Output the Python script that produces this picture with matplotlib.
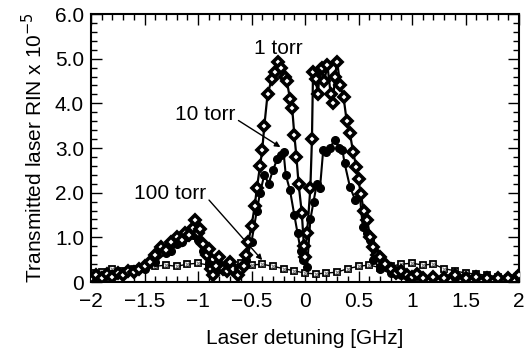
import matplotlib
matplotlib.use("Agg")
import matplotlib.pyplot as plt
from matplotlib.ticker import MultipleLocator, FixedLocator

plt.rcParams["font.family"] = ["Liberation Sans", "DejaVu Sans"]

# 1 torr (diamonds)
x1 = [-2.00, -1.95, -1.90, -1.85, -1.80, -1.75, -1.70, -1.65, -1.60, -1.55,
      -1.50, -1.45, -1.40, -1.35, -1.30, -1.25, -1.20, -1.15, -1.12, -1.08,
      -1.05, -1.03, -1.00, -0.98, -0.95, -0.92, -0.90, -0.88, -0.86, -0.83,
      -0.80, -0.77, -0.73, -0.70, -0.67, -0.63, -0.60, -0.57, -0.55, -0.53,
      -0.50, -0.47, -0.45, -0.42, -0.40, -0.38, -0.35, -0.31, -0.28, -0.25,
      -0.22, -0.19, -0.17, -0.14, -0.12, -0.10, -0.08, -0.06, -0.03, -0.01,
      0.00, 0.02, 0.05, 0.065, 0.075, 0.10, 0.12, 0.14, 0.16, 0.18,
      0.21, 0.24, 0.26, 0.28, 0.30, 0.33, 0.36, 0.39, 0.42, 0.45,
      0.48, 0.50, 0.52, 0.55, 0.58, 0.61, 0.64, 0.67, 0.70, 0.75,
      0.80, 0.85, 0.90, 0.95, 1.00, 1.05, 1.10, 1.20, 1.30, 1.40,
      1.50, 1.60, 1.70, 1.80, 1.90, 2.00]
y1 = [0.08, 0.15, 0.10, 0.18, 0.12, 0.20, 0.15, 0.25, 0.22, 0.30,
      0.35, 0.45, 0.60, 0.78, 0.72, 0.90, 1.00, 0.95, 1.10, 1.05,
      1.20, 1.38, 1.10, 1.18, 0.85, 0.60, 0.75, 0.30, 0.15, 0.35,
      0.55, 0.30, 0.25, 0.45, 0.30, 0.15, 0.30, 0.35, 0.60, 0.90,
      1.25, 1.70, 2.10, 2.60, 2.95, 3.50, 4.20, 4.55, 4.70, 4.92,
      4.80, 4.60, 4.50, 4.10, 3.90, 3.30, 2.80, 2.20, 1.55, 0.80,
      0.56, 1.10, 2.10, 3.20, 4.70, 4.55, 4.20, 4.75, 4.78, 4.50,
      4.85, 4.20, 4.00, 4.60, 4.93, 4.40, 4.14, 3.60, 3.33, 2.90,
      2.58, 2.30, 1.98, 1.60, 1.39, 1.00, 0.79, 0.60, 0.56, 0.40,
      0.30, 0.20, 0.25, 0.15, 0.12, 0.18, 0.10, 0.12, 0.10, 0.15,
      0.08, 0.12, 0.10, 0.08, 0.10, 0.15]

# 10 torr (filled circles)
x10 = [-2.00, -1.90, -1.80, -1.70, -1.60, -1.50, -1.40, -1.30, -1.25, -1.20,
       -1.15, -1.10, -1.05, -1.00, -0.95, -0.90, -0.85, -0.80, -0.75, -0.70,
       -0.65, -0.60, -0.55, -0.50, -0.45, -0.42, -0.38, -0.34, -0.30, -0.26,
       -0.22, -0.20, -0.18, -0.14, -0.10, -0.07, -0.04, -0.02, 0.02, 0.05,
       0.08, 0.11, 0.14, 0.17, 0.20, 0.23, 0.28, 0.32, 0.35, 0.37,
       0.42, 0.47, 0.51, 0.54, 0.58, 0.61, 0.64, 0.70, 0.80, 0.90,
       1.00, 1.20, 1.40, 1.60, 1.80, 2.00]
y10 = [0.12, 0.15, 0.18, 0.20, 0.25, 0.30, 0.45, 0.65, 0.70, 0.85,
       0.90, 1.00, 1.05, 0.95, 0.70, 0.40, 0.20, 0.30, 0.25, 0.35,
       0.25, 0.30, 0.50, 0.90, 1.60, 2.00, 2.40, 2.20, 2.50, 2.75,
       2.85, 2.90, 2.40, 2.05, 1.50, 1.10, 0.70, 0.50, 0.34, 1.40,
       1.80, 2.20, 2.10, 2.95, 2.90, 3.00, 3.18, 3.00, 2.95, 2.66,
       2.13, 1.83, 2.00, 1.23, 1.10, 0.94, 0.49, 0.30, 0.20, 0.15,
       0.12, 0.10, 0.10, 0.08, 0.10, 0.10]

# 100 torr (crossed squares)
x100 = [-2.00, -1.90, -1.80, -1.70, -1.60, -1.50, -1.40, -1.30, -1.20, -1.10,
        -1.00, -0.90, -0.80, -0.70, -0.60, -0.50, -0.40, -0.30, -0.20, -0.10,
        0.00, 0.10, 0.20, 0.30, 0.40, 0.50, 0.60, 0.70, 0.80, 0.90,
        1.00, 1.10, 1.20, 1.30, 1.40, 1.50, 1.60, 1.70, 1.80, 1.90, 2.00]
y100 = [0.20, 0.22, 0.28, 0.25, 0.30, 0.32, 0.35, 0.38, 0.35, 0.40,
        0.42, 0.38, 0.40, 0.35, 0.42, 0.38, 0.40, 0.35, 0.30, 0.25,
        0.20, 0.18, 0.20, 0.22, 0.30, 0.35, 0.38, 0.32, 0.35, 0.40,
        0.42, 0.38, 0.40, 0.30, 0.25, 0.20, 0.18, 0.15, 0.12, 0.10, 0.15]

x_ticks = [-2, -1.5, -1, -0.5, 0, 0.5, 1, 1.5, 2]
x_labels = ["\u22122", "\u22121.5", "\u22121", "\u22120.5", "0", "0.5", "1", "1.5", "2"]
y_ticks = [0, 1, 2, 3, 4, 5, 6]
y_labels = ["0", "1.0", "2.0", "3.0", "4.0", "5.0", "6.0"]

FS = 15

fig = plt.figure(figsize=(5.31, 3.56), dpi=100)
ax = fig.add_axes([91 / 531, 1 - 282 / 356, (519 - 91) / 531, (282 - 14) / 356])

ax.plot(x100, y100, color="black", lw=1.0, marker="s", ms=5, mfc="white",
        mec="black", mew=1.3, zorder=2)
ax.plot(x100, y100, ls="none", marker="x", ms=3, mec="0.5", mew=0.8, zorder=2)
ax.plot(x10, y10, color="black", lw=1.5, marker="o", ms=5.5, mfc="black",
        mec="black", zorder=3)
ax.plot(x1, y1, color="black", lw=1.6, marker="D", ms=5, mfc="white",
        mec="black", mew=2.6, zorder=4)

ax.set_xlim(-2, 2)
ax.set_ylim(0, 6)
ax.xaxis.set_major_locator(FixedLocator(x_ticks))
ax.set_xticklabels(x_labels)
ax.yaxis.set_major_locator(FixedLocator(y_ticks))
ax.set_yticklabels(y_labels)
ax.xaxis.set_minor_locator(MultipleLocator(0.1))
ax.yaxis.set_minor_locator(MultipleLocator(0.2))
ax.tick_params(which="both", direction="in", top=True, right=True,
               labelsize=FS, width=1.0)
ax.tick_params(which="major", length=8)
ax.tick_params(which="minor", length=4)
ax.tick_params(axis="x", pad=7)
ax.tick_params(axis="y", pad=5)
for s in ax.spines.values():
    s.set_linewidth(1.5)

ax.set_xlabel("Laser detuning [GHz]", fontsize=FS, labelpad=13)
ax.set_ylabel("Transmitted laser RIN x 10$^{-5}$", fontsize=FS, labelpad=6)

ax.text(-0.25, 5.23, "1 torr", fontsize=FS, ha="center", va="center")
ax.annotate("10 torr", xy=(-0.23, 3.02), xytext=(-0.93, 3.74), fontsize=FS,
            ha="center", va="center",
            arrowprops=dict(arrowstyle="-|>", color="black", lw=1.0,
                            shrinkA=0, shrinkB=0, mutation_scale=8,
                            relpos=(1.0, 0.3)))
ax.annotate("100 torr", xy=(-0.40, 0.49), xytext=(-1.26, 1.99), fontsize=FS,
            ha="center", va="center",
            arrowprops=dict(arrowstyle="-|>", color="black", lw=1.0,
                            shrinkA=0, shrinkB=0, mutation_scale=8,
                            relpos=(1.0, 0.3)))

fig.savefig("out.png", dpi=100)
